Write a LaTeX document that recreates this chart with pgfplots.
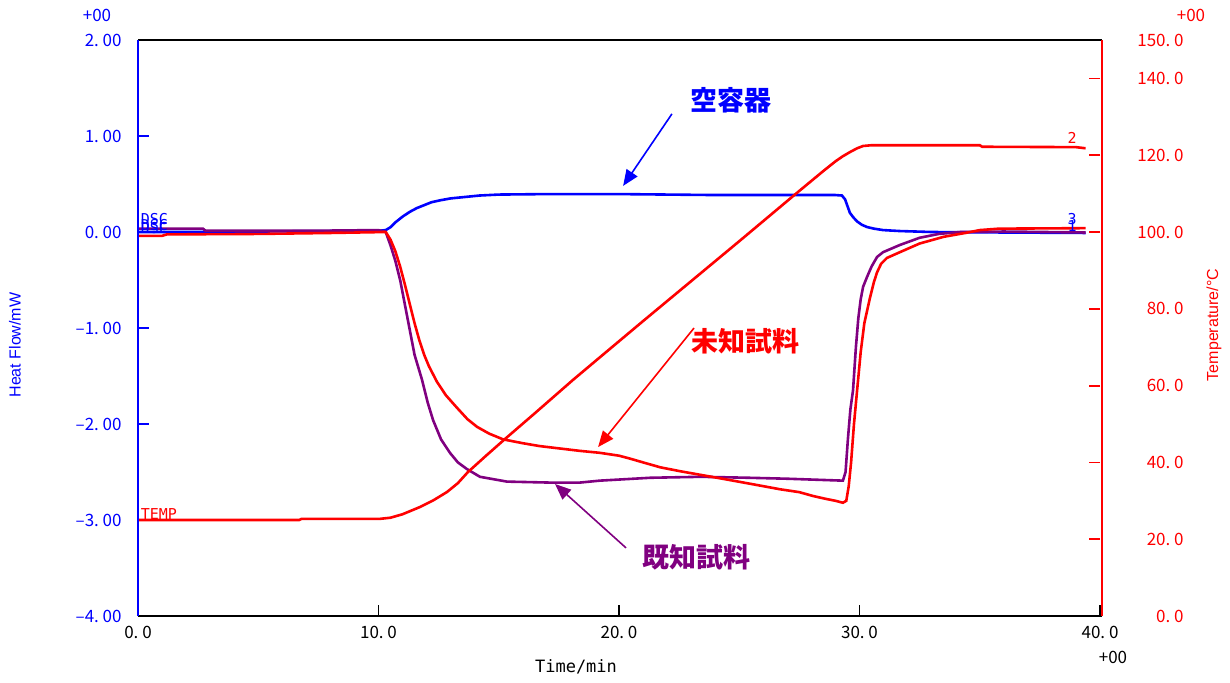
\documentclass[border=0pt]{standalone}
\usepackage{pgfplots}
\pgfplotsset{compat=1.18}
\usepackage{fontspec}
\setmainfont{Liberation Sans}
\newfontfamily\jp{Noto Sans CJK JP}
\newfontfamily\mono{DejaVu Sans Mono}
\usetikzlibrary{arrows.meta}
\definecolor{dblue}{RGB}{0,0,255}
\definecolor{dred}{RGB}{255,0,0}
\definecolor{dpurple}{RGB}{128,0,128}
\newcommand{\tk}{\jp\fontsize{8.5}{9}\selectfont}
\newcommand{\jpa}{\jp\bfseries\fontsize{13.5}{14}\selectfont}
\newcommand{\mn}{\mono\fontsize{7.5}{8}\selectfont}

\begin{document}
\begin{tikzpicture}[x=1pt,y=1pt]
\useasboundingbox (0,0) rectangle (615,341);
% ---------- DSC axis ----------
\begin{axis}[
  at={(69pt,33pt)}, anchor=south west,
  scale only axis, width=481pt, height=288pt,
  xmin=0, xmax=40, ymin=-4, ymax=2,
  axis line style={draw=none},
  clip=false,
  xtick pos=left, ytick pos=left,
  xtick={0,10,20,30,40},
  xticklabels={0.~0,10.~0,20.~0,30.~0,40.~0},
  ytick={-4,-3,-2,-1,0,1,2},
  yticklabels={–4.~00,–3.~00,–2.~00,–1.~00,0.~00,1.~00,2.~00},
  major tick length=5.5pt,
  x tick style={black, line width=0.7pt},
  y tick style={dblue, line width=0.9pt},
  xticklabel style={font=\tk, text=black, inner sep=0pt, anchor=north, yshift=-5pt},
  yticklabel style={font=\tk, text=dblue, inner sep=0pt, anchor=east, xshift=-8pt},
]
% empty container (blue)
\addplot[dblue, line width=1.3pt] coordinates {
(0,0.00) (2,0.00) (5,0.005) (8,0.01) (10,0.012) (10.3,0.02) (10.5,0.05) (10.7,0.10)
(11.0,0.16) (11.3,0.21) (11.6,0.25) (11.9,0.28) (12.2,0.31) (12.56,0.33) (13.0,0.35)
(13.4,0.36) (14.2,0.38) (15,0.39) (17,0.395) (20,0.395) (22,0.39) (24,0.385) (26,0.385)
(28,0.385) (29.0,0.385) (29.27,0.38) (29.4,0.34) (29.5,0.27) (29.6,0.2) (29.73,0.156)
(29.9,0.11) (30.1,0.075) (30.31,0.052) (30.6,0.035) (30.98,0.02) (31.68,0.01) (33,0.0)
(36,-0.005) (39.4,-0.01)};
% known sample (purple)
\addplot[dpurple, line width=1.3pt] coordinates {
(0,0.035) (2.7,0.035) (2.8,0.015) (5,0.015) (8,0.015) (10,0.02) (10.3,0.0) (10.5,-0.14)
(10.7,-0.3) (10.9,-0.5) (11.1,-0.76) (11.3,-1.02) (11.5,-1.28) (11.81,-1.54) (12.05,-1.78)
(12.27,-1.96) (12.6,-2.16) (12.97,-2.30) (13.3,-2.40) (13.68,-2.47) (14.22,-2.55)
(15.34,-2.60) (17.1,-2.61) (18.38,-2.61) (19.2,-2.59) (21.3,-2.56) (23.4,-2.55)
(25.4,-2.56) (27,-2.57) (29.31,-2.59) (29.42,-2.50) (29.52,-2.15) (29.62,-1.85)
(29.73,-1.65) (29.85,-1.2) (29.95,-0.9) (30.05,-0.7) (30.15,-0.57) (30.31,-0.47)
(30.5,-0.36) (30.73,-0.26) (30.98,-0.21) (31.68,-0.135) (32.5,-0.06) (33.3,-0.02)
(34.2,0.0) (36,0.005) (39.4,-0.005)};
% unknown sample (red)
\addplot[dred, line width=1.3pt] coordinates {
(0,-0.04) (1,-0.04) (1.2,-0.025) (5,-0.02) (8,-0.01) (10.3,0.0) (10.5,-0.08) (10.7,-0.2)
(10.9,-0.36) (11.1,-0.55) (11.3,-0.75) (11.5,-0.95) (11.7,-1.13) (11.9,-1.28) (12.1,-1.4)
(12.43,-1.56) (12.8,-1.7) (13.26,-1.83) (13.7,-1.95) (14.1,-2.03) (14.6,-2.1) (15.18,-2.16)
(16,-2.2) (16.7,-2.23) (18.38,-2.28) (19.2,-2.3) (20.0,-2.33) (20.45,-2.36) (21.0,-2.4)
(21.7,-2.45) (22.5,-2.49) (23.4,-2.53) (24.3,-2.57) (25.4,-2.62) (26.7,-2.68) (27.5,-2.71)
(28.07,-2.75) (28.6,-2.78) (29.0,-2.8) (29.31,-2.82) (29.45,-2.8) (29.55,-2.65) (29.65,-2.4)
(29.77,-2.0) (29.9,-1.65) (30.05,-1.25) (30.2,-0.95) (30.44,-0.68) (30.6,-0.52) (30.73,-0.42)
(30.9,-0.33) (31.14,-0.27) (31.68,-0.21) (32.5,-0.12) (33.5,-0.05) (34.4,-0.01) (35,0.02)
(35.8,0.035) (39.4,0.04)};
% annotations
\node[dblue, font=\jpa] at (axis cs:24.66,1.375) {空容器};
\draw[dblue, line width=0.8pt, -{Triangle[length=8pt,width=6.5pt]}] (axis cs:22.2,1.23) -- (axis cs:20.17,0.48);
\node[dred, font=\jpa] at (axis cs:25.28,-1.135) {未知試料};
\draw[dred, line width=0.8pt, -{Triangle[length=8pt,width=6.5pt]}] (axis cs:23.12,-1.0) -- (axis cs:19.13,-2.24);
\node[dpurple, font=\jpa] at (axis cs:23.24,-3.385) {既知試料};
\draw[dpurple, line width=0.8pt, -{Triangle[length=8pt,width=6.5pt]}] (axis cs:20.29,-3.29) -- (axis cs:17.34,-2.625);
% curve labels
\node[dblue, font=\mn, anchor=west, inner sep=0pt] at (axis cs:0.1,0.135) {DSC};
\node[dblue, font=\mn, anchor=west, inner sep=0pt] at (axis cs:0.1,0.075) {DSC};
\node[dblue, font=\mn, anchor=west, inner sep=0pt] at (axis cs:0.1,0.045) {DSC};
\node[dred, font=\mn, anchor=west, inner sep=0pt] at (axis cs:0.1,-2.94) {TEMP};
\node[dred, font=\mn, inner sep=0pt] at (axis cs:38.84,0.98) {2};
\node[dblue, font=\mn, inner sep=0pt] at (axis cs:38.84,0.135) {3};
\node[dblue, font=\mn, inner sep=0pt] at (axis cs:38.84,0.065) {1};
\end{axis}
% ---------- Temperature axis ----------
\begin{axis}[
  at={(69pt,33pt)}, anchor=south west,
  scale only axis, width=481pt, height=288pt,
  xmin=0, xmax=40, ymin=0, ymax=150,
  axis line style={draw=none},
  xtick=\empty,
  ytick pos=right,
  ytick={0,20,40,60,80,100,120,140,150},
  yticklabels={0.~0,20.~0,40.~0,60.~0,80.~0,100.~0,120.~0,140.~0,150.~0},
  major tick length=5.5pt,
  y tick style={dred, line width=0.9pt},
  yticklabel style={font=\tk, text=dred, inner sep=0pt, anchor=east, xshift=42pt},
]
\addplot[dred, line width=1.3pt] coordinates {
(0,25.0) (6.7,25.0) (6.8,25.3) (10.06,25.3) (10.5,25.6) (11.0,26.5) (11.73,28.4) (12.3,30.2)
(12.85,32.3) (13.3,34.6) (13.72,37.5) (14.5,41.9) (15.26,46.1) (16.5,52.8) (18.09,61.5)
(19.21,67.4) (21,76.8) (23,87.2) (25,97.6) (27.4,110.2) (28.5,115.9) (29.0,118.4)
(29.3,119.7) (29.6,120.8) (29.9,121.8) (30.15,122.4) (30.5,122.6) (31.7,122.6) (35.0,122.6)
(35.1,122.2) (39.0,122.1) (39.4,121.8)};
\end{axis}
% ---------- frame ----------
\draw[black, line width=0.7pt] (69,321) -- (551,321);
\draw[black, line width=0.7pt] (69,33) -- (551,33);
\draw[dblue, line width=0.9pt] (69,33) -- (69,321);
\draw[dred, line width=0.9pt] (551,33) -- (551,321);
% ---------- outer labels ----------
\node[dblue, font=\tk] at (48.5,333.5) {+00};
\node[dred, font=\tk] at (595.5,333.5) {+00};
\node[black, font=\tk] at (556.5,12.5) {+00};
\node[black, font=\mono\fontsize{8.5}{9}\selectfont] at (288,7.5) {Time/min};
\node[dblue, font=\fontsize{8}{9}\selectfont, rotate=90] at (7.5,168.5) {Heat Flow/mW};
\node[dred, font=\fontsize{8}{9}\selectfont, rotate=90] at (607,178.5) {Temperature/°C};
\end{tikzpicture}
\end{document}
